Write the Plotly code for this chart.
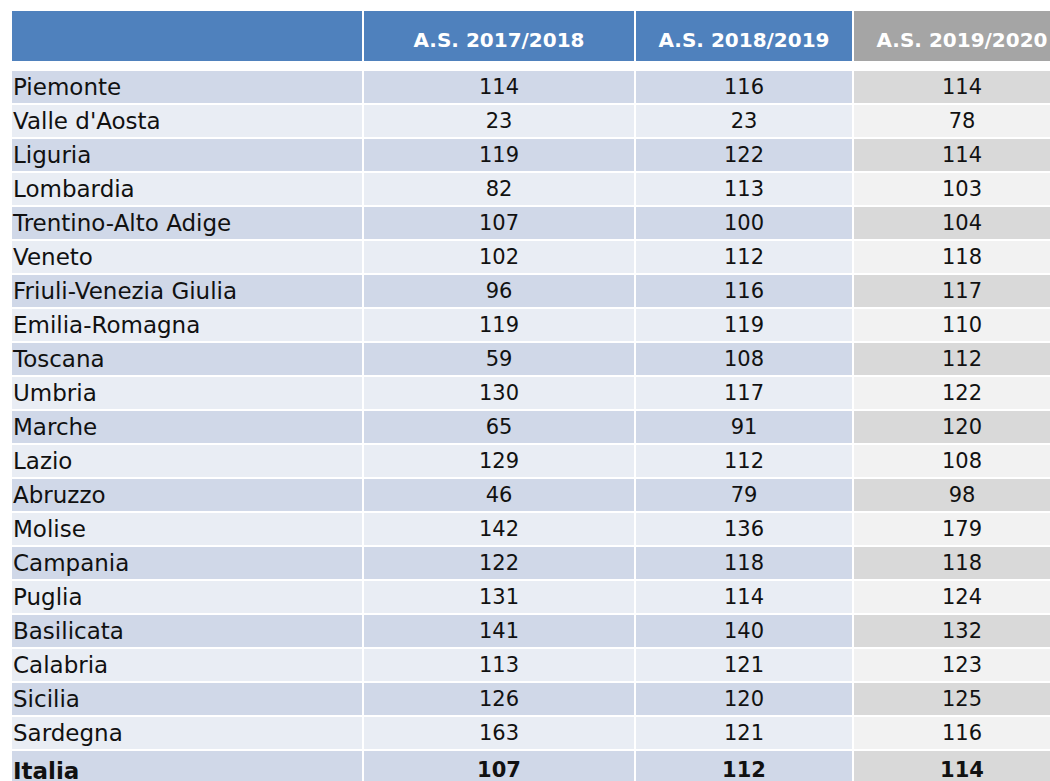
import plotly.graph_objects as go

regioni = ["Piemonte", "Valle d'Aosta", "Liguria", "Lombardia", "Trentino-Alto Adige",
           "Veneto", "Friuli-Venezia Giulia", "Emilia-Romagna", "Toscana", "Umbria",
           "Marche", "Lazio", "Abruzzo", "Molise", "Campania", "Puglia", "Basilicata",
           "Calabria", "Sicilia", "Sardegna", "Italia"]
as_2017_2018 = [114, 23, 119, 82, 107, 102, 96, 119, 59, 130, 65, 129, 46, 142, 122, 131, 141, 113, 126, 163, 107]
as_2018_2019 = [116, 23, 122, 113, 100, 112, 116, 119, 108, 117, 91, 112, 79, 136, 118, 114, 140, 121, 120, 121, 112]
as_2019_2020 = [114, 78, 114, 103, 104, 118, 117, 110, 112, 122, 120, 108, 98, 179, 118, 124, 132, 123, 125, 116, 114]
intestazioni = ["", "A.S. 2017/2018", "A.S. 2018/2019", "A.S. 2019/2020"]

W, H = 1071, 781
n = len(regioni)
CLEAR = "rgba(0,0,0,0)"
FONT = "DejaVu Sans"

def bold_last(vals):
    return [f"<b>{v}</b>" if i == n - 1 else str(v) for i, v in enumerate(vals)]

blue_band = ["#D0D8E8" if i % 2 == 0 else "#E9EDF4" for i in range(n)]
gray_band = ["#D9D9D9" if i % 2 == 0 else "#F2F2F2" for i in range(n)]
header_fill = ["#4F81BD", "#4F81BD", "#4F81BD", "#A5A5A5"]

colwidths = [352, 272, 218, 218]
x0 = 11                     # left edge of the table (px)
top_header = 10             # top of the header (px)
header_h = 52
gap_h = 8
row_h = 34
dy_h = 10                   # vertical text offset inside header
dy_b = 0                    # vertical text offset inside body rows
dx_names = -6               # horizontal offset of region names

def xdom(left):
    return [left / W, 1]

def ydom(top):
    return [0, 1 - top / H]

fig = go.Figure()

# header fills
fig.add_trace(go.Table(
    domain=dict(x=xdom(x0), y=ydom(top_header)),
    columnwidth=colwidths,
    header=dict(values=["", "", "", ""], fill_color=header_fill,
                line=dict(color="white", width=2), height=header_h),
    cells=dict(values=[[], [], [], []]),
))
# header text
fig.add_trace(go.Table(
    domain=dict(x=xdom(x0), y=ydom(top_header + dy_h)),
    columnwidth=colwidths,
    header=dict(values=[f"<b>{h}</b>" if h else "" for h in intestazioni],
                fill_color=CLEAR, line=dict(color=CLEAR, width=0),
                font=dict(family=FONT, size=20, color="white"),
                align="center", height=header_h),
    cells=dict(values=[[], [], [], []]),
))

body_top = top_header + header_h
# body fills
fig.add_trace(go.Table(
    domain=dict(x=xdom(x0), y=ydom(body_top)),
    columnwidth=colwidths,
    header=dict(values=["", "", "", ""], fill_color="white",
                line=dict(color="white", width=2), height=gap_h),
    cells=dict(values=[[""] * n] * 4,
               fill_color=[blue_band, blue_band, blue_band, gray_band],
               line=dict(color="white", width=2), height=row_h),
))
# body text: region names
fig.add_trace(go.Table(
    domain=dict(x=[(x0 + dx_names) / W, (x0 + dx_names + colwidths[0]) / W], y=ydom(body_top + dy_b)),
    columnwidth=[colwidths[0]],
    header=dict(values=[""], fill_color=CLEAR, line=dict(color=CLEAR, width=0), height=gap_h),
    cells=dict(values=[bold_last(regioni)], fill_color=CLEAR,
               line=dict(color=CLEAR, width=0),
               font=dict(family=FONT, size=23, color="#111111"),
               align="left", height=row_h),
))
# body text: values
fig.add_trace(go.Table(
    domain=dict(x=xdom(x0 + colwidths[0]), y=ydom(body_top + dy_b)),
    columnwidth=colwidths[1:],
    header=dict(values=["", "", ""], fill_color=CLEAR, line=dict(color=CLEAR, width=0), height=gap_h),
    cells=dict(values=[bold_last(as_2017_2018), bold_last(as_2018_2019), bold_last(as_2019_2020)],
               fill_color=CLEAR, line=dict(color=CLEAR, width=0),
               font=dict(family=FONT, size=21, color="#111111"),
               align="center", height=row_h),
))

fig.update_layout(width=W, height=H, margin=dict(l=0, r=0, t=0, b=0),
                  paper_bgcolor="white", plot_bgcolor="white")
fig.write_html("out.html", config={"displayModeBar": False},
               post_script="document.body.style.margin='0';document.body.style.overflow='hidden';")
